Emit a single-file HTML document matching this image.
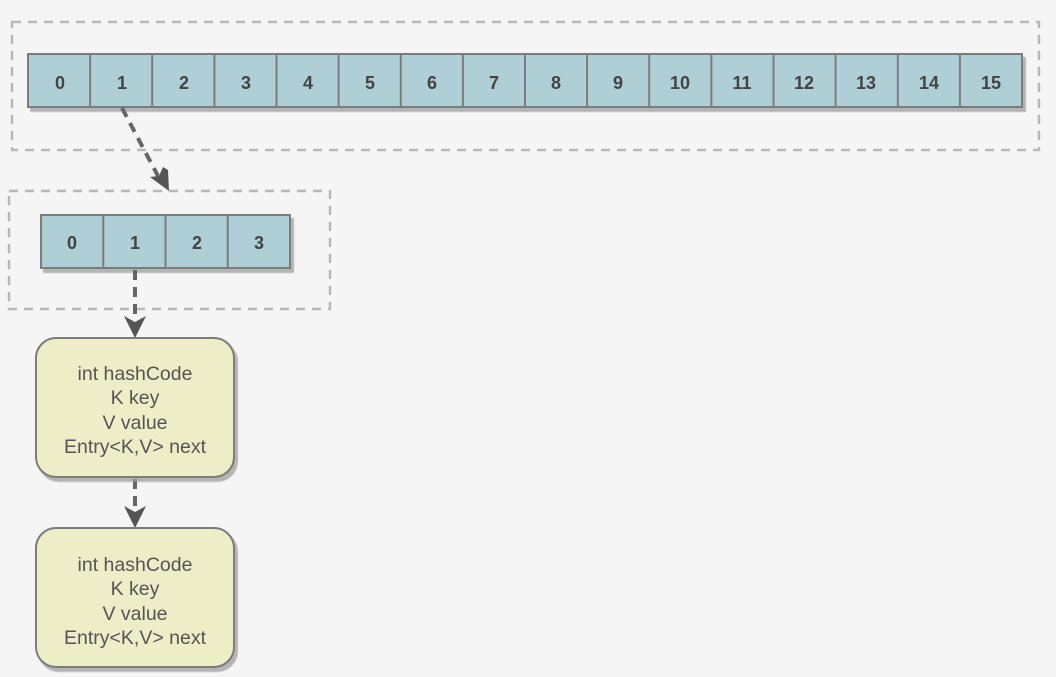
<!DOCTYPE html>
<html><head><meta charset="utf-8"><style>
html,body{margin:0;padding:0;background:#f5f5f5;}
svg{display:block;}
.c{font-family:"Liberation Sans",sans-serif;font-weight:bold;font-size:18px;fill:#444;}
.e{font-family:"Liberation Sans",sans-serif;font-size:19.5px;fill:#555;}
</style></head><body>
<svg width="1056" height="677" viewBox="0 0 1056 677" xmlns="http://www.w3.org/2000/svg">
<defs>
<filter id="sh" x="-5%" y="-5%" width="115%" height="125%"><feDropShadow dx="3" dy="4" stdDeviation="0.6" flood-color="#999" flood-opacity="0.7"/></filter>
</defs>
<rect x="0" y="0" width="1056" height="677" fill="#f5f5f5"/>
<text x="528" y="-4" class="e" text-anchor="middle">y</text>
<rect x="12" y="22" width="1027" height="128" fill="none" stroke="#b8b8b8" stroke-width="2.5" stroke-dasharray="9,7"/>
<rect x="9" y="191" width="321" height="118" fill="none" stroke="#b8b8b8" stroke-width="2.5" stroke-dasharray="9,7"/>
<g filter="url(#sh)">
<rect x="28" y="54" width="994" height="53" fill="#aecfd5" stroke="#7c7c7c" stroke-width="2"/>
</g>
<g stroke="#7c7c7c" stroke-width="2">
<line x1="90.1" y1="54" x2="90.1" y2="107"/><line x1="152.2" y1="54" x2="152.2" y2="107"/><line x1="214.4" y1="54" x2="214.4" y2="107"/><line x1="276.5" y1="54" x2="276.5" y2="107"/><line x1="338.6" y1="54" x2="338.6" y2="107"/><line x1="400.8" y1="54" x2="400.8" y2="107"/><line x1="462.9" y1="54" x2="462.9" y2="107"/><line x1="525" y1="54" x2="525" y2="107"/><line x1="587.1" y1="54" x2="587.1" y2="107"/><line x1="649.2" y1="54" x2="649.2" y2="107"/><line x1="711.4" y1="54" x2="711.4" y2="107"/><line x1="773.5" y1="54" x2="773.5" y2="107"/><line x1="835.6" y1="54" x2="835.6" y2="107"/><line x1="897.8" y1="54" x2="897.8" y2="107"/><line x1="959.9" y1="54" x2="959.9" y2="107"/>
</g>
<g class="c" text-anchor="middle">
<text x="60" y="89">0</text><text x="122" y="89">1</text><text x="184" y="89">2</text><text x="246" y="89">3</text><text x="308" y="89">4</text><text x="370" y="89">5</text><text x="432" y="89">6</text><text x="494" y="89">7</text><text x="556" y="89">8</text><text x="618" y="89">9</text><text x="680" y="89">10</text><text x="742" y="89">11</text><text x="804" y="89">12</text><text x="866" y="89">13</text><text x="929" y="89">14</text><text x="991" y="89">15</text>
</g>
<g filter="url(#sh)">
<rect x="41" y="215" width="249" height="53" fill="#aecfd5" stroke="#7c7c7c" stroke-width="2"/>
</g>
<g stroke="#7c7c7c" stroke-width="2">
<line x1="103.25" y1="215" x2="103.25" y2="268"/><line x1="165.5" y1="215" x2="165.5" y2="268"/><line x1="227.75" y1="215" x2="227.75" y2="268"/>
</g>
<g class="c" text-anchor="middle">
<text x="72" y="249">0</text><text x="135" y="249">1</text><text x="197" y="249">2</text><text x="259" y="249">3</text>
</g>
<g stroke="#666" stroke-width="4" stroke-dasharray="10,7" fill="none">
<line x1="122" y1="108" x2="158" y2="176"/>
<line x1="135" y1="270" x2="135" y2="320"/>
<line x1="135" y1="479" x2="135" y2="510"/>
</g>
<g fill="#555">
<polygon points="169,191 150,177 159,176 163,167 168,170"/>
<polygon points="135,338 124,316 135,322 146,316"/>
<polygon points="135,528 124,506 135,512 146,506"/>
</g>
<g filter="url(#sh)">
<rect x="36" y="338" width="198" height="139" rx="20" fill="#ededc8" stroke="#7c7c7c" stroke-width="2"/>
<rect x="36" y="528" width="198" height="139" rx="20" fill="#ededc8" stroke="#7c7c7c" stroke-width="2"/>
</g>
<g class="e" text-anchor="middle">
<text x="135" y="380">int hashCode</text><text x="135" y="404">K key</text><text x="135" y="429">V value</text><text x="135" y="453">Entry&lt;K,V&gt; next</text>
<text x="135" y="571">int hashCode</text><text x="135" y="595">K key</text><text x="135" y="620">V value</text><text x="135" y="644">Entry&lt;K,V&gt; next</text>
</g>
</svg>
</body></html>
